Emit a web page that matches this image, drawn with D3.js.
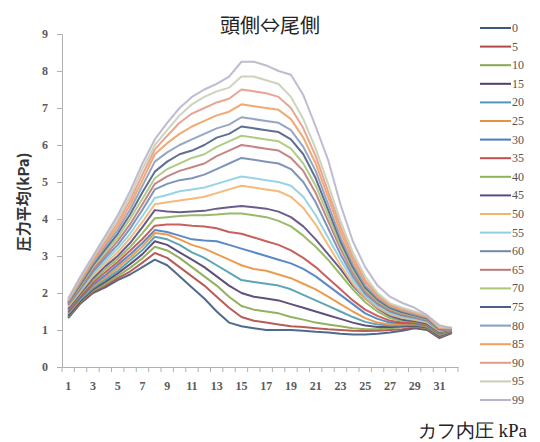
<!DOCTYPE html>
<html>
<head>
<meta charset="utf-8">
<script src="https://cdn.jsdelivr.net/npm/d3@7"></script>
<style>
  html, body { margin: 0; padding: 0; background: #fff; }
  svg { display: block; }
</style>
</head>
<body>
<svg id="chart" width="540" height="442"></svg>
<script>
// Positions along the cuff (head side -> tail side)
const positions = d3.range(1, 33);
// Cuff inner pressure levels (kPa), one series each
const pressures = [0, 5, 10, 15, 20, 25, 30, 35, 40, 45, 50, 55, 60, 65, 70, 75, 80, 85, 90, 95, 99];
const yTicks = [0, 1, 2, 3, 4, 5, 6, 7, 8, 9];
const xTickLabels = [1, 3, 5, 7, 9, 11, 13, 15, 17, 19, 21, 23, 25, 27, 29, 31];

const p0  = [1.32,1.72,2.0,2.15,2.35,2.5,2.7,2.9, 2.75,2.45,2.15,1.85,1.5,1.2,1.1,1.05,1.0,1.0,1.0,0.98,0.95,0.93,0.9,0.88,0.88,0.9,0.93,0.98,1.05,1.0,0.78,0.92];
const p5  = [1.34,1.74,2.03,2.19,2.4,2.58,2.82,3.08, 2.95,2.7,2.45,2.2,1.9,1.6,1.35,1.25,1.2,1.15,1.1,1.08,1.05,1.02,1.0,0.98,0.97,0.98,1.0,1.02,1.08,1.02,0.8,0.93];
const p10 = [1.36,1.76,2.06,2.24,2.46,2.68,2.94,3.25, 3.15,2.95,2.7,2.45,2.2,1.9,1.65,1.55,1.5,1.45,1.35,1.28,1.2,1.15,1.1,1.05,1.02,1.02,1.05,1.08,1.1,1.05,0.82,0.95];
const p15 = [1.39,1.79,2.1,2.3,2.53,2.78,3.05,3.4, 3.3,3.1,2.9,2.7,2.45,2.2,2.0,1.9,1.85,1.8,1.7,1.6,1.5,1.4,1.3,1.2,1.12,1.08,1.08,1.1,1.12,1.07,0.84,0.96];
const p20 = [1.42,1.82,2.13,2.36,2.6,2.88,3.16,3.52, 3.45,3.3,3.1,2.95,2.75,2.55,2.35,2.3,2.25,2.2,2.1,1.95,1.8,1.65,1.5,1.35,1.22,1.15,1.12,1.12,1.14,1.08,0.86,0.97];
const p25 = [1.45,1.85,2.17,2.42,2.68,2.96,3.26,3.62, 3.58,3.45,3.3,3.2,3.05,2.9,2.75,2.65,2.6,2.5,2.4,2.25,2.1,1.9,1.7,1.5,1.32,1.2,1.15,1.15,1.16,1.1,0.88,0.98];
const p30 = [1.48,1.88,2.22,2.48,2.76,3.04,3.35,3.7, 3.65,3.55,3.45,3.42,3.4,3.3,3.2,3.1,3.0,2.9,2.8,2.65,2.45,2.2,1.95,1.7,1.45,1.3,1.2,1.18,1.18,1.12,0.9,0.99];
const p35 = [1.52,1.92,2.28,2.56,2.84,3.14,3.46,3.82, 3.85,3.85,3.82,3.8,3.75,3.65,3.6,3.5,3.4,3.3,3.15,2.95,2.7,2.4,2.1,1.8,1.55,1.38,1.25,1.2,1.2,1.14,0.92,1.0];
const p40 = [1.55,1.96,2.34,2.64,2.92,3.24,3.62,4.02, 4.05,4.08,4.1,4.1,4.12,4.15,4.15,4.1,4.05,3.95,3.8,3.55,3.25,2.9,2.5,2.1,1.75,1.5,1.32,1.25,1.22,1.15,0.93,1.0];
const p45 = [1.58,2.0,2.4,2.72,3.0,3.35,3.78,4.24, 4.2,4.18,4.2,4.22,4.28,4.32,4.35,4.32,4.28,4.2,4.05,3.8,3.45,3.05,2.65,2.2,1.85,1.58,1.38,1.28,1.24,1.17,0.95,1.01];
const p50 = [1.62,2.04,2.46,2.8,3.1,3.48,3.92,4.4, 4.45,4.5,4.55,4.6,4.7,4.8,4.9,4.85,4.8,4.75,4.6,4.3,3.85,3.3,2.75,2.25,1.85,1.6,1.42,1.33,1.27,1.2,0.97,1.02];
const p55 = [1.65,2.08,2.52,2.87,3.2,3.6,4.08,4.57, 4.65,4.75,4.8,4.85,4.95,5.05,5.15,5.1,5.05,5.0,4.9,4.6,4.1,3.5,2.9,2.35,1.92,1.65,1.46,1.36,1.3,1.22,0.98,1.02];
const p60 = [1.68,2.12,2.58,2.95,3.3,3.74,4.25,4.8, 4.95,5.05,5.1,5.2,5.35,5.5,5.65,5.6,5.55,5.5,5.35,5.0,4.45,3.75,3.05,2.45,1.98,1.7,1.5,1.39,1.33,1.25,1.0,1.03];
const p65 = [1.7,2.16,2.64,3.02,3.4,3.86,4.4,4.95, 5.15,5.3,5.4,5.5,5.7,5.85,6.0,5.95,5.9,5.85,5.65,5.3,4.7,3.95,3.2,2.55,2.05,1.74,1.54,1.42,1.35,1.27,1.01,1.03];
const p70 = [1.72,2.2,2.7,3.1,3.5,4.0,4.55,5.1, 5.35,5.5,5.65,5.75,5.95,6.1,6.25,6.2,6.15,6.1,5.9,5.5,4.9,4.1,3.3,2.62,2.1,1.78,1.57,1.45,1.38,1.29,1.02,1.04];
const p75 = [1.74,2.24,2.75,3.18,3.6,4.12,4.72,5.28, 5.55,5.75,5.85,6.0,6.2,6.3,6.5,6.45,6.4,6.35,6.15,5.75,5.1,4.25,3.4,2.7,2.15,1.82,1.6,1.48,1.4,1.31,1.03,1.04];
const p80 = [1.76,2.28,2.8,3.26,3.7,4.25,4.9,5.55, 5.8,6.0,6.15,6.3,6.45,6.55,6.75,6.7,6.65,6.6,6.4,5.95,5.3,4.4,3.5,2.78,2.2,1.86,1.63,1.51,1.42,1.33,1.04,1.05];
const p85 = [1.78,2.32,2.85,3.33,3.8,4.38,5.05,5.75, 6.05,6.3,6.5,6.65,6.8,6.9,7.1,7.05,7.0,6.95,6.7,6.2,5.5,4.6,3.65,2.88,2.28,1.9,1.66,1.54,1.45,1.35,1.05,1.05];
const p90 = [1.8,2.36,2.9,3.4,3.9,4.5,5.2,5.88, 6.25,6.6,6.85,7.0,7.15,7.25,7.5,7.45,7.4,7.3,7.0,6.45,5.7,4.75,3.8,2.98,2.35,1.95,1.69,1.57,1.48,1.37,1.06,1.06];
const p95 = [1.82,2.4,2.95,3.48,4.0,4.62,5.35,6.0, 6.4,6.8,7.1,7.3,7.45,7.55,7.85,7.85,7.75,7.65,7.3,6.7,5.9,4.95,3.95,3.1,2.45,2.0,1.72,1.6,1.5,1.39,1.08,1.06];
const p99 = [1.85,2.45,3.0,3.55,4.1,4.75,5.5,6.15, 6.6,7.0,7.3,7.5,7.65,7.85,8.25,8.25,8.15,8.0,7.9,7.35,6.5,5.6,4.4,3.4,2.7,2.2,1.9,1.73,1.6,1.4,1.13,1.05];

const seriesValues = [p0,p5,p10,p15,p20,p25,p30,p35,p40,p45,p50,p55,p60,p65,p70,p75,p80,p85,p90,p95,p99];
const seriesColors = [
  "#3d5a80", "#b04a48", "#86a84e", "#4f3d6e", "#4c9ab0", "#e8913e", "#4a7cc0",
  "#c0504d", "#8db35a", "#5b4a80", "#f4b26a", "#8ccfe0", "#7088b0", "#c07878",
  "#a9c67a", "#4e5f86", "#8a9cc0", "#f0a060", "#e89a88", "#c5d0b5", "#b8b4cc"
];

const svg = d3.select("#chart");
const plot = { left: 62, right: 458, top: 34, bottom: 367 };

const xBand = d3.scaleBand().domain(positions).range([plot.left, plot.right]).padding(0);
const xc = d => xBand(d) + xBand.bandwidth() / 2;
const y = d3.scaleLinear().domain([0, 9]).range([plot.bottom, plot.top]);

const serif = "'Liberation Serif', 'DejaVu Serif', serif";
const cjk = "'Noto Sans CJK JP', 'Noto Sans', sans-serif";

// Y axis
const yAxis = svg.append("g")
  .attr("transform", `translate(${plot.left},0)`)
  .call(d3.axisLeft(y).tickValues(yTicks).tickSize(5).tickPadding(9).tickFormat(d3.format("d")));
yAxis.select(".domain").attr("stroke", "#b0b0b0");
yAxis.selectAll(".tick line").attr("stroke", "#b0b0b0");
yAxis.selectAll(".tick text")
  .attr("font-family", serif).attr("font-size", 12).attr("font-weight", "bold").attr("fill", "#5a5a5a");

// X axis: labels on odd positions, tick marks on category boundaries
const xAxis = svg.append("g")
  .attr("transform", `translate(0,${plot.bottom})`)
  .call(d3.axisBottom(xBand).tickValues(xTickLabels).tickSize(0).tickPadding(14));
xAxis.select(".domain").attr("stroke", "#b0b0b0");
xAxis.selectAll(".tick text")
  .attr("font-family", serif).attr("font-size", 12).attr("font-weight", "bold").attr("fill", "#5a5a5a");
xAxis.selectAll(".bound")
  .data(positions.concat([null]))
  .join("line")
  .attr("class", "bound")
  .attr("x1", d => d === null ? plot.right : xBand(d))
  .attr("x2", d => d === null ? plot.right : xBand(d))
  .attr("y1", 0).attr("y2", 5)
  .attr("stroke", "#b0b0b0");

// Series lines
const line = d3.line()
  .x((d, i) => xc(positions[i]))
  .y(d => y(d));

svg.append("g")
  .selectAll("path")
  .data(seriesValues)
  .join("path")
  .attr("d", line)
  .attr("fill", "none")
  .attr("stroke", (d, i) => seriesColors[i])
  .attr("stroke-width", 2)
  .attr("stroke-opacity", 0.9)
  .attr("stroke-linejoin", "round");

// Legend
const legend = svg.append("g");
const legendItem = legend.selectAll("g")
  .data(pressures)
  .join("g")
  .attr("transform", (d, i) => `translate(480,${28 + i * 18.6})`);
legendItem.append("line")
  .attr("x1", 0).attr("x2", 31).attr("y1", 0).attr("y2", 0)
  .attr("stroke", (d, i) => seriesColors[i]).attr("stroke-width", 2);
legendItem.append("text")
  .attr("x", 32).attr("y", 4)
  .attr("font-family", serif).attr("font-size", 12).attr("fill", "#555")
  .text(d => d);

// Titles
svg.append("text")
  .attr("x", 270).attr("y", 33)
  .attr("text-anchor", "middle")
  .attr("font-family", cjk).attr("font-size", 20).attr("fill", "#222")
  .text("頭側⇔尾側");

svg.append("text")
  .attr("transform", "translate(29,202) rotate(-90)")
  .attr("text-anchor", "middle")
  .attr("font-family", cjk).attr("font-size", 15).attr("font-weight", "bold").attr("fill", "#333")
  .text("圧力平均(kPa)");

svg.append("text")
  .attr("x", 527).attr("y", 437)
  .attr("text-anchor", "end")
  .attr("font-family", serif).attr("font-size", 19).attr("fill", "#222")
  .text("カフ内圧 kPa");
</script>
</body>
</html>
